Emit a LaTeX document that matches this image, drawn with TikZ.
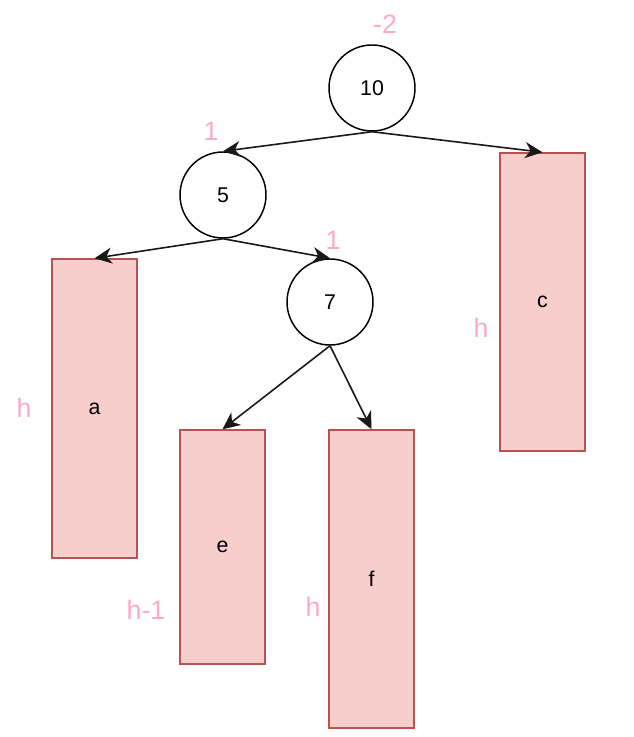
\documentclass[tikz,border=0pt]{standalone}
\usepackage{fontspec}
\setmainfont{Liberation Sans}
\usetikzlibrary{arrows.meta}
\definecolor{boxfill}{HTML}{F8CECC}
\definecolor{boxline}{HTML}{B85450}
\definecolor{lbl}{HTML}{FFA8C8}
\begin{document}
\begin{tikzpicture}[x=0.75pt,y=-0.75pt,
  circ/.style={draw=black,line width=1.1pt,circle,minimum size=64.5pt,inner sep=0pt,font=\fontsize{16}{18}\selectfont},
  leaf/.style={draw=boxline,fill=boxfill,line width=1.1pt,minimum width=63.75pt,inner sep=0pt,font=\fontsize{16}{18}\selectfont},
  arr/.style={draw=black!90,line width=1.2pt,-{Stealth[length=13pt,width=12pt,inset=4pt]}},
  hl/.style={text=lbl,font=\fontsize{20}{22}\selectfont,inner sep=0pt}]
\useasboundingbox (0,0) rectangle (633,737);
\node[circ] (n10) at (372,88) {10};
\node[circ] (n5) at (223,195) {5};
\node[circ] (n7) at (330,302) {7};
\node[leaf,minimum height=224.25pt] (a) at (94.5,408.5) {a};
\node[leaf,minimum height=223.5pt] (c) at (542.5,302) {c};
\node[leaf,minimum height=175.5pt] (e) at (222.5,547) {e};
\node[leaf,minimum height=223.5pt] (f) at (371.5,579) {f};
\draw[arr] (n10.south) -- (n5.north);
\draw[arr] (n10.south) -- (c.north);
\draw[arr] (n5.south) -- (a.north);
\draw[arr] (n5.south) -- (n7.north);
\draw[arr] (n7.south) -- (e.north);
\draw[arr] (n7.south) -- (f.north);
\node[hl] (l10) at (385,24) {-2};
\node[hl] (l5) at (211,131) {1};
\node[hl] (l7) at (333,240) {1};
\node[hl] (la) at (24,408) {h};
\node[hl] (lc) at (481,328) {h};
\node[hl] (le) at (146,610) {h-1};
\node[hl] (lf) at (313,607) {h};
\end{tikzpicture}
\end{document}
